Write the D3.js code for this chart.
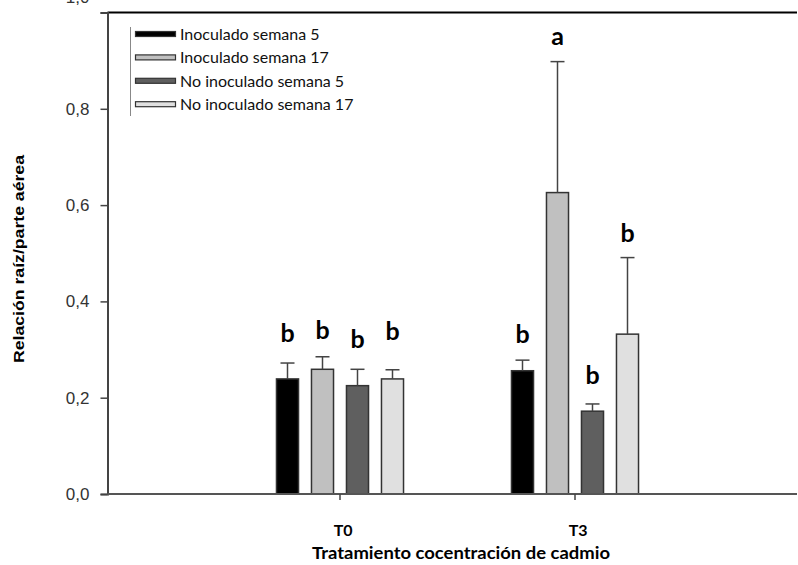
<!DOCTYPE html>
<html><head><meta charset="utf-8">
<script src="https://cdn.jsdelivr.net/npm/d3@7"></script>
<style>html,body{margin:0;padding:0;background:#fff;}svg{display:block;}</style>
</head><body><svg id="c" width="798" height="565"></svg>
<script>
const categories = ["T0", "T3"];
const series = ["Inoculado semana 5", "Inoculado semana 17", "No inoculado semana 5", "No inoculado semana 17"];
const valuesT0 = [0.239, 0.259, 0.225, 0.239];
const valuesT3 = [0.256, 0.626, 0.172, 0.332];
const errorT0 = [0.033, 0.026, 0.034, 0.019];
const errorT3 = [0.022, 0.272, 0.015, 0.159];
const lettersT0 = ["b", "b", "b", "b"];
const lettersT3 = ["b", "a", "b", "b"];
const letterLevelT0 = [0.315, 0.322, 0.303, 0.320];
const letterLevelT3 = [0.313, 0.932, 0.228, 0.523];
const yTicks = [0, 0.2, 0.4, 0.6, 0.8, 1.0];
const colors = ["#000000", "#c0c0c0", "#5f5f5f", "#e0e0e0"];

const rows = [];
categories.forEach((c, ci) => {
  const vals = ci === 0 ? valuesT0 : valuesT3;
  const errs = ci === 0 ? errorT0 : errorT3;
  const lets = ci === 0 ? lettersT0 : lettersT3;
  const lev = ci === 0 ? letterLevelT0 : letterLevelT3;
  series.forEach((s, si) => rows.push({cat: c, s, si, v: vals[si], e: errs[si], l: lets[si], ly: lev[si]}));
});

const svg = d3.select("#c");
const mLeft = 107.5, mRight = 797, mTop = 12.5, mBottom = 494;
const y = d3.scaleLinear().domain([0, 1]).range([mBottom, mTop]);
const x0 = d3.scaleBand().domain(categories).range([222.5, 692.5]).padding(0);
const x1 = d3.scaleBand().domain(series).range([-70, 70]).paddingInner(0.37).paddingOuter(0.185);
const color = d3.scaleOrdinal().domain(series).range(colors);

// bars
svg.append("g").selectAll("rect").data(rows).join("rect")
  .attr("x", d => x0(d.cat) + x0.bandwidth() / 2 + x1(d.s))
  .attr("y", d => y(d.v))
  .attr("width", x1.bandwidth())
  .attr("height", d => y(0) - y(d.v))
  .attr("fill", d => color(d.s))
  .attr("stroke", "#333").attr("stroke-width", 1.5);

// error bars
const eg = svg.append("g").attr("stroke", "#444").attr("stroke-width", 1.5);
rows.forEach(d => {
  const cx = x0(d.cat) + x0.bandwidth() / 2 + x1(d.s) + x1.bandwidth() / 2;
  eg.append("line").attr("x1", cx).attr("x2", cx).attr("y1", y(d.v)).attr("y2", y(d.v + d.e));
  eg.append("line").attr("x1", cx - 7).attr("x2", cx + 7).attr("y1", y(d.v + d.e)).attr("y2", y(d.v + d.e));
});

// letters
svg.append("g").selectAll("text").data(rows).join("text")
  .attr("x", d => x0(d.cat) + x0.bandwidth() / 2 + x1(d.s) + x1.bandwidth() / 2)
  .attr("y", d => y(d.ly))
  .attr("text-anchor", "middle")
  .attr("font-family", "Lato, sans-serif").attr("font-weight", "bold").attr("font-size", 25)
  .attr("fill", "#000").text(d => d.l);

// top border
svg.append("line").attr("x1", mLeft).attr("x2", mRight).attr("y1", mTop).attr("y2", mTop)
  .attr("stroke", "#000").attr("stroke-width", 2);

// y axis
const ya = svg.append("g").attr("transform", `translate(${mLeft},0)`)
  .call(d3.axisLeft(y).tickValues(yTicks).tickSize(7).tickPadding(11)
    .tickFormat(d => d3.format(".1f")(d).replace(".", ",")));
ya.select(".domain").attr("stroke", "#444").attr("stroke-width", 2);
ya.selectAll(".tick line").attr("stroke", "#444").attr("stroke-width", 1.5);
ya.selectAll(".tick text").attr("font-family", "Liberation Sans, Arial, sans-serif")
  .attr("font-size", 17).attr("fill", "#333");
ya.selectAll(".tick").filter(d => d === 1).select("text").attr("dy", "-0.6em");

// x axis
const xa = svg.append("g").attr("transform", `translate(0,${mBottom})`)
  .call(d3.axisBottom(x0).tickSize(6).tickPadding(25));
xa.select(".domain").attr("d", `M${mLeft},0H${mRight}`).attr("stroke", "#555").attr("stroke-width", 2);
xa.selectAll(".tick line").attr("stroke", "#444").attr("stroke-width", 1.5);
xa.selectAll(".tick text").attr("font-family", "Lato, sans-serif").attr("font-weight", "bold")
  .attr("font-size", 16).attr("fill", "#000").attr("dx", "0.2em");

// axis titles
svg.append("text").attr("x", 461).attr("y", 559).attr("text-anchor", "middle")
  .attr("font-family", "Lato, sans-serif").attr("font-weight", "bold").attr("font-size", 17)
  .attr("textLength", 298).attr("lengthAdjust", "spacingAndGlyphs")
  .attr("fill", "#000").text("Tratamiento cocentración de cadmio");
svg.append("text").attr("transform", "translate(24,259) rotate(-90)").attr("text-anchor", "middle")
  .attr("font-family", "Liberation Sans, Arial, sans-serif").attr("font-weight", "bold").attr("font-size", 14.5)
  .attr("textLength", 208).attr("lengthAdjust", "spacingAndGlyphs")
  .attr("fill", "#000").text("Relación raíz/parte aérea");

// legend
const lg = svg.append("g");
lg.append("line").attr("x1", 130.5).attr("x2", 130.5).attr("y1", 27).attr("y2", 116)
  .attr("stroke", "#888").attr("stroke-width", 1);
series.forEach((s, i) => {
  const yy = 34 + i * 23.4;
  lg.append("rect").attr("x", 135.5).attr("y", yy - 2.5).attr("width", 40).attr("height", 5)
    .attr("fill", color(s)).attr("stroke", "#333").attr("stroke-width", 1.2);
  lg.append("text").attr("x", 180).attr("y", yy + 6).attr("font-family", "Lato, sans-serif")
    .attr("font-size", 16).attr("fill", "#111").text(s);
});
</script></body></html>
